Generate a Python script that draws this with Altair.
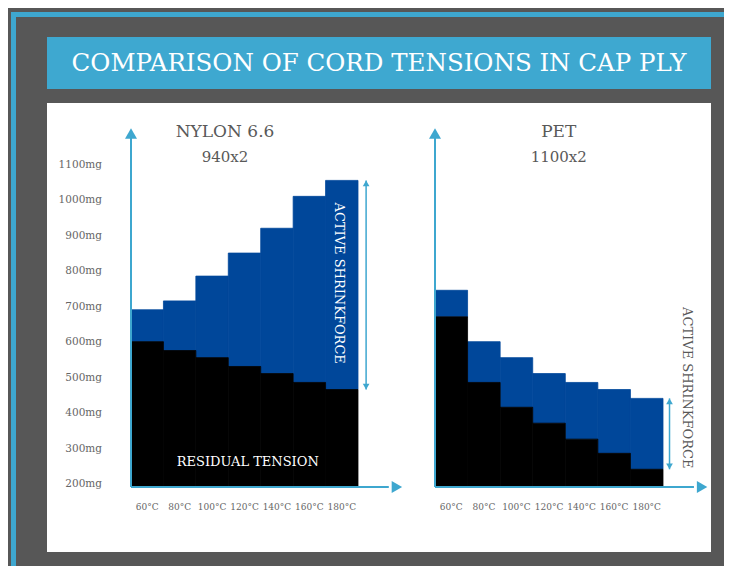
import altair as alt
import pandas as pd

# ---------------- data ----------------
TEMPS = ["60°C", "80°C", "100°C", "120°C", "140°C", "160°C", "180°C"]
NYLON_RESIDUAL = [610, 585, 565, 540, 520, 495, 475]
NYLON_TOTAL = [700, 725, 795, 860, 930, 1020, 1065]
PET_RESIDUAL = [680, 495, 425, 380, 335, 295, 250]
PET_TOTAL = [755, 610, 565, 520, 495, 475, 450]
Y_TICKS = [200, 300, 400, 500, 600, 700, 800, 900, 1000, 1100]

MAIN_TITLE = "COMPARISON OF CORD TENSIONS IN CAP PLY"
NYLON_TITLE = ["NYLON 6.6", "940x2"]
PET_TITLE = ["PET", "1100x2"]
ACTIVE_LABEL = "ACTIVE SHRINKFORCE"
RESIDUAL_LABEL = "RESIDUAL TENSION"

# ---------------- style ----------------
FONT = "DejaVu Serif"
BG = "#575757"
LIGHT = "#3ea7cf"
DARK_BLUE = "#00479a"
TEXT_GRAY = "#595959"


def steps(residual, total):
    n = len(TEMPS)
    return pd.DataFrame({
        "idx": list(range(n)),
        "end": [i + 1 for i in range(n)],
        "mid": [i + 0.5 for i in range(n)],
        "temp": TEMPS,
        "residual": residual,
        "total": total,
    })


nylon = steps(NYLON_RESIDUAL, NYLON_TOTAL)
pet = steps(PET_RESIDUAL, PET_TOTAL)
ticks = pd.DataFrame({"v": Y_TICKS, "label": [f"{v}mg" for v in Y_TICKS]})
ONE = pd.DataFrame({"k": [0]})

yscale = alt.Scale(domain=[200, 1100], range=[479, 160], nice=False, zero=False)
left_x = alt.Scale(domain=[0, 7], range=[123, 350], nice=False, zero=False)
right_x = alt.Scale(domain=[0, 7], range=[427, 655], nice=False, zero=False)


def Y(field):
    return alt.Y(field, type="quantitative", scale=yscale, axis=None)


def panel(df, xs, titles, title_x, active_x, active_y, active_color, arrow_x, extra=None):
    X = lambda f: alt.X(f, type="quantitative", scale=xs, axis=None)
    base = alt.Chart(df)
    blue = base.mark_rect(color=DARK_BLUE, stroke=DARK_BLUE, strokeWidth=0.8).encode(
        x=X("idx"), x2="end:Q", y=Y("total"), y2="residual:Q")
    black = base.mark_rect(color="black", stroke="black", strokeWidth=0.8).encode(
        x=X("idx"), x2="end:Q", y=Y("residual"), y2=alt.datum(200))
    xlabels = base.mark_text(font=FONT, fontSize=9, color="#666666",
                             baseline="middle").encode(
        x=X("mid"), y=alt.value(499), text="temp:N")
    # axes with arrows
    one = alt.Chart(ONE)
    yaxis = one.mark_rule(color=LIGHT, strokeWidth=2).encode(
        x=alt.XDatum(0, scale=xs, axis=None), y=alt.YDatum(200, scale=yscale, axis=None),
        y2=alt.value(126))
    xaxis = one.mark_rule(color=LIGHT, strokeWidth=2).encode(
        x=alt.XDatum(0, scale=xs, axis=None), x2=alt.datum(7.95),
        y=alt.YDatum(200, scale=yscale, axis=None))
    yhead = one.mark_point(shape="triangle-up", filled=True, size=144, opacity=1,
                           color=LIGHT, strokeWidth=0).encode(
        x=alt.XDatum(0, scale=xs, axis=None), y=alt.value(125.5))
    xhead = one.mark_point(shape="triangle-right", filled=True, size=144, opacity=1,
                           color=LIGHT, strokeWidth=0).encode(
        x=alt.XDatum(8.2, scale=xs, axis=None), y=alt.YDatum(200, scale=yscale, axis=None))
    # double arrow on the last step
    last = base.transform_filter("datum.idx == 6")
    dbl = last.mark_rule(color=LIGHT, strokeWidth=1.5).encode(
        x=alt.XDatum(arrow_x, scale=xs, axis=None), y=Y("total"), y2="residual:Q")
    dtop = last.mark_point(shape="triangle-up", filled=True, size=45, opacity=1,
                           color=LIGHT, strokeWidth=0, yOffset=2.9).encode(
        x=alt.XDatum(arrow_x, scale=xs, axis=None), y=Y("total"))
    dbot = last.mark_point(shape="triangle-down", filled=True, size=45, opacity=1,
                           color=LIGHT, strokeWidth=0, yOffset=-2.9).encode(
        x=alt.XDatum(arrow_x, scale=xs, axis=None), y=Y("residual"))
    # titles
    t = alt.Chart(pd.DataFrame({"t": titles, "row": [0, 1]}))
    t1 = t.transform_filter("datum.row == 0").mark_text(
        font=FONT, fontSize=17, color=TEXT_GRAY, baseline="middle").encode(
        x=alt.XDatum(title_x, scale=xs, axis=None), y=alt.value(124), text="t:N")
    t2 = t.transform_filter("datum.row == 1").mark_text(
        font=FONT, fontSize=15, color=TEXT_GRAY, baseline="middle").encode(
        x=alt.XDatum(title_x, scale=xs, axis=None), y=alt.value(149), text="t:N")
    act = alt.Chart(pd.DataFrame({"t": [ACTIVE_LABEL]})).mark_text(
        font=FONT, fontSize=13, color=active_color, angle=90,
        baseline="middle", align="center").encode(
        x=alt.XDatum(active_x, scale=xs, axis=None),
        y=alt.YDatum(active_y, scale=yscale, axis=None), text="t:N")
    parts = [blue, black, xlabels, yaxis, xaxis, yhead, xhead, dbl, dtop, dbot, t1, t2, act]
    if extra is not None:
        parts.append(extra(xs))
    return alt.layer(*parts)


def residual_text(xs):
    return alt.Chart(pd.DataFrame({"t": [RESIDUAL_LABEL]})).mark_text(
        font=FONT, fontSize=13, color="white", baseline="middle", align="center").encode(
        x=alt.XDatum(3.6, scale=xs, axis=None),
        y=alt.YDatum(270, scale=yscale, axis=None), text="t:N")


left = panel(nylon, left_x, NYLON_TITLE, 2.9, 6.4, 775, "white", 7.25, residual_text)
right = panel(pet, right_x, PET_TITLE, 3.8, 7.75, 480, TEXT_GRAY, 7.2)

one = alt.Chart(ONE)
frame_top = one.mark_rect(color=LIGHT).encode(
    x=alt.value(3), x2=alt.value(716), y=alt.value(4), y2=alt.value(9))
frame_left = one.mark_rect(color=LIGHT).encode(
    x=alt.value(3), x2=alt.value(8), y=alt.value(4), y2=alt.value(558))
banner = one.mark_rect(color="#3ea8d0").encode(
    x=alt.value(39), x2=alt.value(703), y=alt.value(29), y2=alt.value(81))
banner_text = alt.Chart(pd.DataFrame({"t": [MAIN_TITLE]})).mark_text(
    font=FONT, fontSize=24.5, color="white", baseline="middle", align="center").encode(
    x=alt.value(371), y=alt.value(56), text="t:N")
panel_bg = one.mark_rect(color="white").encode(
    x=alt.value(39), x2=alt.value(703), y=alt.value(95), y2=alt.value(544))
ylabels = alt.Chart(ticks).mark_text(
    font=FONT, fontSize=10.5, color="#666666", align="right", baseline="alphabetic").encode(
    x=alt.value(94), y=Y("v"), text="label:N")

chart = alt.layer(
    frame_top, frame_left, banner, banner_text, panel_bg, ylabels, left, right
).resolve_scale(x="independent").properties(
    width=716, height=558, padding=0,
    autosize=alt.AutoSizeParams(type="none"), background=BG
).configure_view(stroke=None)

chart.save("out.html", embed_options={"renderer": "svg", "actions": False})
